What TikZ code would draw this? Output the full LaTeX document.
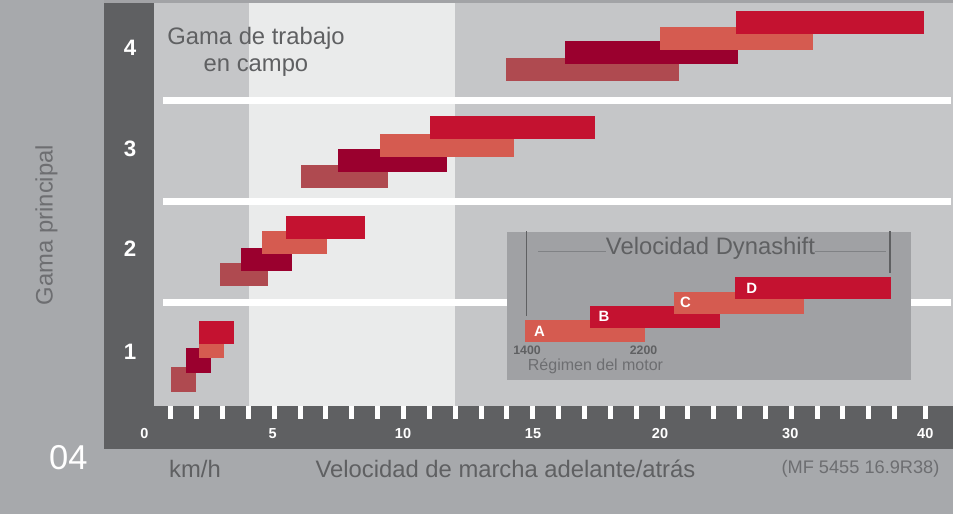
\documentclass[tikz,border=0pt]{standalone}
\usepackage{fontspec}
\setmainfont{Liberation Sans}
\definecolor{bgc}{HTML}{A7A9AC}
\definecolor{topc}{HTML}{A2A3A6}
\definecolor{panelc}{HTML}{5F6062}
\definecolor{plotc}{HTML}{C5C6C8}
\definecolor{bandc}{HTML}{EAEBEB}
\definecolor{insetc}{HTML}{A0A1A4}
\definecolor{dullc}{HTML}{AF4A50}
\definecolor{crimc}{HTML}{9A002E}
\definecolor{salmc}{HTML}{D55B50}
\definecolor{redc}{HTML}{C41230}
\definecolor{txtc}{HTML}{5F6062}
\definecolor{txtlc}{HTML}{6D6E71}
\definecolor{hlinec}{HTML}{808285}
\begin{document}
\begin{tikzpicture}[x=1pt,y=-1pt,
  txt/.style={inner sep=0pt, outer sep=0pt},
  bigtxt/.style={txt, text=txtc, font=\fontsize{23.8}{27.4}\selectfont},
  gearnum/.style={txt, text=white, font=\fontsize{22.3}{24}\selectfont\bfseries},
  axnum/.style={txt, text=white, font=\fontsize{14.5}{16}\selectfont\bfseries},
  letter/.style={txt, text=white, font=\fontsize{14.9}{16}\selectfont\bfseries},
  rpm/.style={txt, text=txtc, font=\fontsize{12.3}{14}\selectfont\bfseries},
  tickbar/.style={fill=white},
  dullbar/.style={fill=dullc},
  crimbar/.style={fill=crimc},
  salmbar/.style={fill=salmc},
  redbar/.style={fill=redc},
  thinline/.style={draw=txtc, line width=1.3pt},
  hline/.style={draw=hlinec, line width=1pt}]
\useasboundingbox (0,0) rectangle (953,514);
% backgrounds
\fill[bgc] (0,0) rectangle (953,514);
\fill[topc] (104,0) rectangle (953,3);
\fill[panelc] (104,3) rectangle (953,448.5);
\fill[plotc] (154,3) rectangle (953,405.5);
\fill[bandc] (249,3) rectangle (455.3,405.5);
% white separators
\fill[white] (163,97) rectangle (951,104);
\fill[white] (163,198) rectangle (951,205);
\fill[white] (163,299) rectangle (951,306);
% gear 1
\fill[dullbar] (171,367) rectangle (196,392);
\fill[crimbar] (186,348) rectangle (211,373);
\fill[salmbar] (199,333) rectangle (224,358);
\fill[redbar] (199,321) rectangle (234,344);
% gear 2
\fill[dullbar] (220,263) rectangle (268,285.7);
\fill[crimbar] (241,248) rectangle (292,270.7);
\fill[salmbar] (262,231) rectangle (327,253.7);
\fill[redbar] (286,216) rectangle (365,238.7);
% gear 3
\fill[dullbar] (301,165) rectangle (388,187.7);
\fill[crimbar] (338,149) rectangle (447,171.7);
\fill[salmbar] (380,134) rectangle (514,156.7);
\fill[redbar] (430,116) rectangle (595,138.7);
% gear 4
\fill[dullbar] (506,58) rectangle (679,80.7);
\fill[crimbar] (565,41) rectangle (738,63.7);
\fill[salmbar] (660,27) rectangle (813,49.7);
\fill[redbar] (736,11) rectangle (924,33.7);
% inset
\fill[insetc] (507,232) rectangle (911,379.7);
\fill[salmbar] (525,320) rectangle (645,341.7);
\fill[redbar] (590,306) rectangle (720,327.7);
\fill[salmbar] (674,292) rectangle (804,313.7);
\fill[redbar] (735,277) rectangle (891,299);
\node[letter, anchor=base] (la) at (539.5,336) {A};
\node[letter, anchor=base] (lb) at (604,321.7) {B};
\node[letter, anchor=base] (lc) at (685.5,307.7) {C};
\node[letter, anchor=base] (ld) at (751.7,293.7) {D};
\node[bigtxt, anchor=base] (dyn) at (710.5,254) {Velocidad Dynashift};
\coordinate (hl) at (538,251);
\coordinate (hr) at (886,251);
\draw[hline] (hl) -- (hl -| dyn.west);
\draw[hline] (dyn.east |- hr) -- (hr);
\coordinate (vl1) at (526.7,231);
\coordinate (vl2) at (526.7,316);
\coordinate (vr1) at (890,231);
\coordinate (vr2) at (890,273);
\draw[thinline] (vl1) -- (vl2);
\draw[thinline] (vr1) -- (vr2);
\node[rpm, anchor=base] (r1400) at (527,354) {1400};
\node[rpm, anchor=base] (r2200) at (643.5,354) {2200};
\node[txt, anchor=base, text=txtlc, font=\fontsize{16}{18}\selectfont] (regimen) at (595.5,370.7) {Régimen del motor};
% field range label
\node[bigtxt, anchor=north, align=center] (campo) at (256,27) {Gama de trabajo\\en campo};
% gear numbers
\node[gearnum] (g4) at (130,48.3) {4};
\node[gearnum] (g3) at (130,149.2) {3};
\node[gearnum] (g2) at (130,248.5) {2};
\node[gearnum] (g1) at (130,351.4) {1};
% ticks
\foreach \v in {1,...,20}{
  \fill[tickbar] ({145+25.85*\v-2.5},406) rectangle ({145+25.85*\v+2.5},419);
}
\foreach \k in {1,...,9}{
  \fill[tickbar] ({662+25.85*\k-2.5},406) rectangle ({662+25.85*\k+2.5},419);
}
\fill[tickbar] (923.3,406) rectangle (928.3,419);
% axis numbers
\node[axnum] (n0) at (144.5,433.5) {0};
\node[axnum] (n5) at (272.7,433.5) {5};
\node[axnum] (n10) at (403,433.5) {10};
\node[axnum] (n15) at (533,433.5) {15};
\node[axnum] (n20) at (660,433.5) {20};
\node[axnum] (n30) at (790.3,433.5) {30};
\node[axnum] (n40) at (925.3,433.5) {40};
% outer labels
\node[txt, anchor=base, rotate=90, text=txtlc, font=\fontsize{23.8}{26}\selectfont] (gp) at (52.7,225) {Gama principal};
\node[txt, anchor=base, text=white, font=\fontsize{34.5}{38}\selectfont] (pg) at (68.3,469) {04};
\node[bigtxt, anchor=base] (kmh) at (195,477.7) {km/h};
\node[bigtxt, anchor=base] (vel) at (505.5,477) {Velocidad de marcha adelante/atrás};
\node[txt, anchor=base, text=txtlc, font=\fontsize{18.2}{20}\selectfont] (mf) at (860.5,473.5) {(MF 5455 16.9R38)};
\end{tikzpicture}
\end{document}
